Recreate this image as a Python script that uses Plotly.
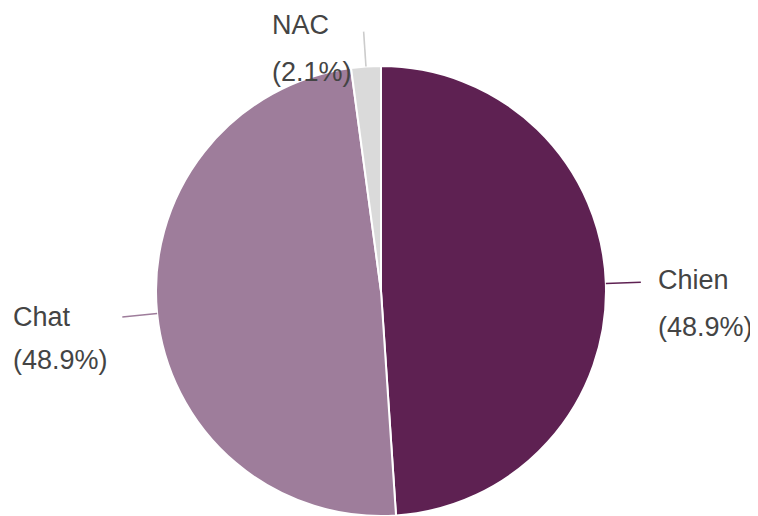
import math
import plotly.graph_objects as go

# Data
labels = ["Chien", "Chat", "NAC"]
counts = [23, 23, 1]
pct_labels = ["(48.9%)", "(48.9%)", "(2.1%)"]
colors = ["#5E2152", "#9E7D9B", "#DADADA"]

# page body has an 8px margin; figure placed at (8, 8)
OFF = 8
W, H = 758 - OFF, 516 - OFF
CX, CY, R = 381 - OFF, 291 - OFF, 225  # pixel geometry of the pie
LEAD = 35

fig = go.Figure(go.Pie(
    labels=labels,
    values=counts,
    sort=False,
    direction="clockwise",
    rotation=0,
    textinfo="none",
    hoverinfo="label+percent",
    marker=dict(colors=colors, line=dict(color="white", width=2)),
    domain=dict(x=[(CX - R) / W, (CX + R) / W], y=[max(0, (H - CY - R) / H), (H - CY + R) / H]),
    showlegend=False,
))

# label text positions in page pixels (left edge x, first-line centre y, second-line centre y)
label_pos = [(656, 280, 327), (11, 317, 360), (270, 25, 72)]

def px(x):
    return x / W

def py(y):
    return 1 - y / H

total = sum(counts)
cum = 0
shapes = []
annotations = []
for i, v in enumerate(counts):
    mid = (cum + v / 2) / total * 2 * math.pi
    cum += v
    sx, sy = CX + R * math.sin(mid), CY - R * math.cos(mid)
    ex, ey = CX + (R + LEAD) * math.sin(mid), CY - (R + LEAD) * math.cos(mid)
    lc = colors[i] if i < 2 else "#CCCCCC"
    shapes.append(dict(type="line", xref="paper", yref="paper",
                       x0=px(sx), y0=py(sy), x1=px(ex), y1=py(ey),
                       line=dict(color=lc, width=1.6)))
    lx, y1, y2 = label_pos[i]
    for txt, yy in ((labels[i], y1), (pct_labels[i], y2)):
        annotations.append(dict(text=txt, xref="paper", yref="paper",
                                x=px(lx - OFF), y=py(yy - OFF), xanchor="left", yanchor="middle",
                                showarrow=False,
                                font=dict(family="Arial, Liberation Sans, sans-serif", size=27, color="#444444")))

fig.update_layout(
    width=W, height=H,
    margin=dict(l=0, r=0, t=0, b=0),
    paper_bgcolor="white", plot_bgcolor="white",
    shapes=shapes, annotations=annotations,
)

fig.write_html("out.html")
